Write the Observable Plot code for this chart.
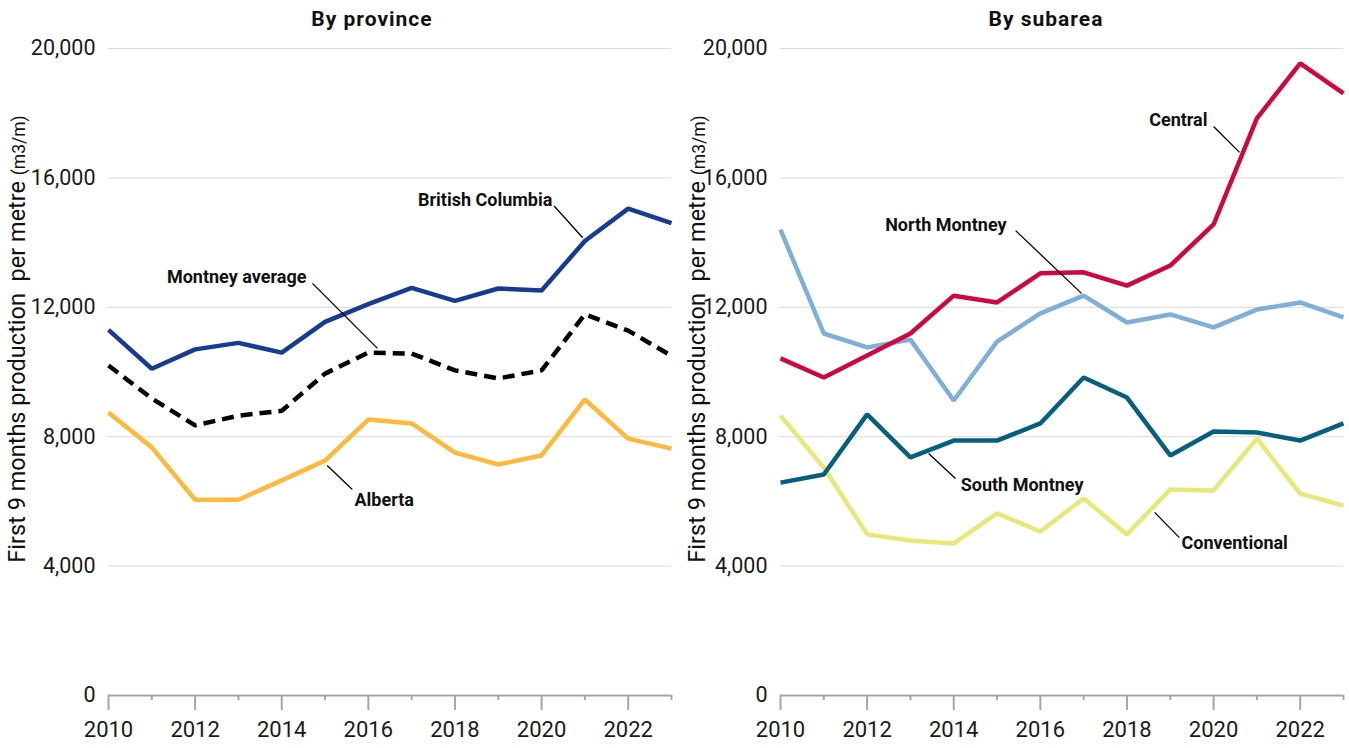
<!DOCTYPE html>
<html><head><meta charset="utf-8">
<script src="https://cdn.jsdelivr.net/npm/d3@7"></script>
<script src="https://cdn.jsdelivr.net/npm/@observablehq/plot@0.6"></script>
<style>
body{margin:0;background:#fff;width:1349px;height:748px;overflow:hidden;position:relative;font-family:Roboto,sans-serif}
.panel{position:absolute;top:0}
.title{position:absolute;top:9px;width:240px;text-align:center;font:bold 21px/21px Roboto,sans-serif;letter-spacing:1px;color:#111}
</style></head><body>
<div id="left" class="panel" style="left:0"></div>
<div id="right" class="panel" style="left:674px"></div>
<div class="title" style="left:252px">By province</div>
<div class="title" style="left:926px">By subarea</div>
<script>
const years = [2010,2011,2012,2013,2014,2015,2016,2017,2018,2019,2020,2021,2022,2023];
const majorYears = [2010,2012,2014,2016,2018,2020,2022];
const minorYears = [2011,2013,2015,2017,2019,2021,2023];
const yTicks = [0,4000,8000,12000,16000,20000];
const gridTicks = [4000,8000,12000,16000,20000];

// By province
const britishColumbia = [11300,10100,10700,10900,10600,11550,12100,12600,12200,12580,12520,14050,15050,14600];
const montneyAverage  = [10200,9180,8350,8650,8800,9950,10600,10570,10050,9800,10050,11780,11280,10500];
const alberta         = [8750,7670,6050,6050,6650,7260,8530,8410,7510,7140,7420,9150,7940,7630];

// By subarea
const central      = [10420,9830,10510,11190,12360,12150,13050,13080,12670,13290,14560,17840,19540,18610];
const northMontney = [14400,11190,10760,11000,9120,10940,11810,12360,11530,11780,11380,11930,12150,11690];
const southMontney = [6580,6830,8690,7360,7880,7880,8410,9830,9210,7420,8160,8130,7880,8410];
const conventional = [8650,7050,4980,4790,4700,5630,5070,6090,4980,6370,6340,7940,6240,5870];

// annotation labels (data coordinates)
const provinceLabels = [
  {text:"British Columbia", year:2020.25, value:15300, anchor:"end"},
  {text:"Montney average", year:2014.57, value:12920, anchor:"end"},
  {text:"Alberta", year:2015.68, value:6030, anchor:"start"}
];
const provinceLeaders = [
  {x1:2020.29, y1:15130, x2:2020.95, y2:14150},
  {x1:2014.71, y1:12740, x2:2016.21, y2:10730},
  {x1:2015.05, y1:7110, x2:2015.63, y2:6370}
];
const subareaLabels = [
  {text:"Central", year:2019.86, value:17770, anchor:"end"},
  {text:"North Montney", year:2015.22, value:14530, anchor:"end"},
  {text:"South Montney", year:2014.16, value:6490, anchor:"start"},
  {text:"Conventional", year:2019.26, value:4700, anchor:"start"}
];
const subareaLeaders = [
  {x1:2020.0, y1:17590, x2:2020.6, y2:16790},
  {x1:2015.43, y1:14370, x2:2016.95, y2:12430},
  {x1:2013.42, y1:7480, x2:2014.04, y2:6710},
  {x1:2018.64, y1:5660, x2:2019.21, y2:4880}
];

const rows = vals => years.map((y,i) => ({year:y, value:vals[i]}));

const provinceSeries = [
  {vals:britishColumbia, color:"#163b93"},
  {vals:alberta, color:"#fdb93b"},
  {vals:montneyAverage, color:"#000000", dash:"12,7"}
];
const subareaSeries = [
  {vals:conventional, color:"#e7e878"},
  {vals:southMontney, color:"#05607f"},
  {vals:northMontney, color:"#7eafd7"},
  {vals:central, color:"#d0073f"}
];

function panel(series, labels, leaders, width, ml, mr) {
  const labelStyle = {x: "year", y: "value", text: "text", fontWeight: "bold", fontSize: 18, fill: "#111", letterSpacing: "0.25px"};
  return Plot.plot({
    width, height: 748, marginTop: 48, marginBottom: 53, marginLeft: ml, marginRight: mr,
    style: {fontFamily: "Roboto, sans-serif", fontSize: "21px", color: "#1a1a1a", background: "transparent", overflow: "visible"},
    x: {domain: [2010, 2023], label: null},
    y: {domain: [0, 20000], label: null},
    marks: [
      Plot.gridY(gridTicks, {stroke: "#d9d9d9", strokeOpacity: 1, strokeWidth: 1}),
      Plot.axisY(yTicks, {tickSize: 0, tickPadding: 13, tickFormat: d3.format(","), fontSize: 21.5, fill: "#1a1a1a"}),
      Plot.ruleY([0], {stroke: "#a6a6a6", strokeWidth: 2}),
      Plot.axisX(majorYears, {tickSize: 15, tickPadding: 11, tickFormat: "d", stroke: "#a6a6a6", strokeWidth: 2, fill: "#1a1a1a", fontSize: 22}),
      Plot.axisX(minorYears, {tickSize: 5, tickFormat: () => "", stroke: "#a6a6a6", strokeWidth: 2}),
      ...series.map(s => Plot.line(rows(s.vals), {x: "year", y: "value", stroke: s.color, strokeWidth: 4.5,
        strokeDasharray: s.dash, strokeLinejoin: "miter", strokeLinecap: "butt"})),
      Plot.link(leaders, {x1: "x1", y1: "y1", x2: "x2", y2: "y2", stroke: "#000", strokeWidth: 1.3}),
      Plot.text(labels.filter(d => d.anchor === "end"), {...labelStyle, textAnchor: "end"}),
      Plot.text(labels.filter(d => d.anchor === "start"), {...labelStyle, textAnchor: "start"})
    ]
  });
}

function addYLabel(svg, x) {
  const t = d3.select(svg).append("text")
    .attr("transform", `translate(${x},339) rotate(-90)`)
    .attr("text-anchor", "middle")
    .attr("fill", "#111")
    .style("font-family", "Roboto, sans-serif")
    .style("font-size", "23.5px")
    .style("white-space", "pre");
  t.append("tspan").text("First 9 months production  per metre ");
  t.append("tspan").style("font-size", "17.5px").text("(m3/m)");
}

const left = panel(provinceSeries, provinceLabels, provinceLeaders, 674, 108, 3);
addYLabel(left, 25);
document.getElementById("left").appendChild(left);

const right = panel(subareaSeries, subareaLabels, subareaLeaders, 675, 106, 6);
addYLabel(right, 31);
document.getElementById("right").appendChild(right);
</script>
</body></html>
